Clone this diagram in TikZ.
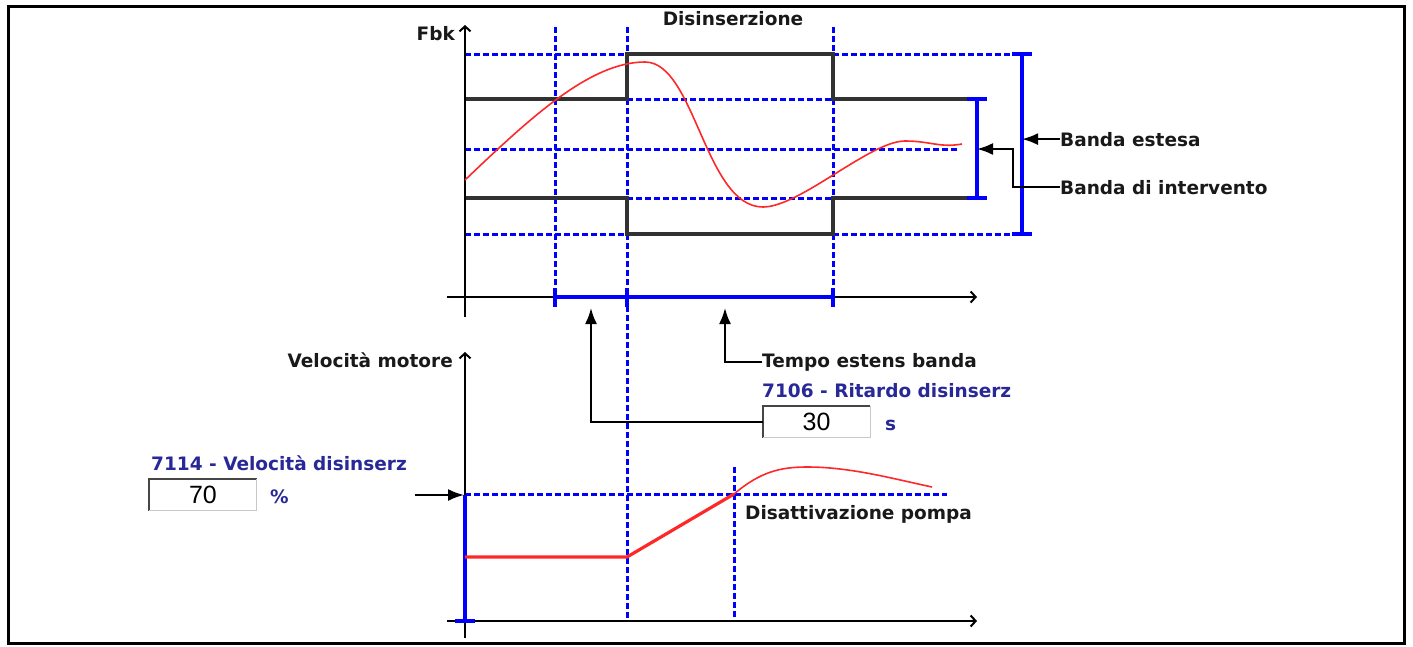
\documentclass[tikz,border=0pt]{standalone}
\usepackage{fontspec}
\setmainfont{DejaVu Sans}
\newfontfamily\numfont{Liberation Sans}
\usetikzlibrary{arrows.meta}
\definecolor{bl}{RGB}{0,0,255}
\definecolor{txtblue}{RGB}{40,40,150}
\definecolor{band}{RGB}{50,50,50}
\definecolor{rd}{RGB}{255,40,40}
\definecolor{boxdark}{RGB}{70,70,70}
\definecolor{boxlight}{RGB}{200,200,200}
\begin{document}
\begin{tikzpicture}[x=1pt,y=-1pt,
 lbl/.style={font=\fontsize{18.5}{22}\selectfont\bfseries, text=black!90, inner sep=0pt},
 plbl/.style={lbl, text=txtblue},
 dsh/.style={bl, line width=3pt, dash pattern=on 6pt off 3pt},
 bracket/.style={bl, line width=3.3pt},
 bandline/.style={band, line width=3.6pt},
 axis/.style={black, line width=2pt, -{Straight Barb[length=5pt,width=11pt]}},
 pointer/.style={black, line width=2pt, -{Latex[length=16pt,width=12pt]}},
 curve/.style={rd, line width=1.6pt},
 valbox/.style={draw=none, fill=white, minimum width=107pt, minimum height=31pt, inner sep=0pt, font=\numfont\fontsize{25}{28}\selectfont},
]
\useasboundingbox (0,0) rectangle (1413,646);
\draw[line width=3pt] (8,6) rectangle (1404,643);

% ---------- top chart ----------
% dashed grid
\draw[dsh] (465,54) -- (627,54) (833,54) -- (1032,54);
\draw[dsh] (627,99) -- (833,99);
\draw[dsh] (465,149) -- (957,149);
\draw[dsh] (627,198) -- (833,198);
\draw[dsh] (465,234) -- (627,234) (833,234) -- (1032,234);
\draw[dsh] (555,27) -- (555,297);
\draw[dsh] (627,27) -- (627,621);
\draw[dsh] (833,27) -- (833,297);

% band lines
\draw[bandline] (465,99) -- (627,99) -- (627,54) -- (833,54) -- (833,99) -- (968,99);
\draw[bandline] (465,198) -- (627,198) -- (627,234) -- (833,234) -- (833,198) -- (968,198);

% brackets
\coordinate (smallbr) at (977,149);
\coordinate (bigbr) at (1022,139);
\draw[bracket] (977,99) -- (977,198) (967,99) -- (987,99) (967,198) -- (987,198);
\draw[bracket] (1022,54) -- (1022,234) (1012,54) -- (1032,54) (1012,234) -- (1032,234);

% axes
\draw[axis] (465,317) -- (465,25);
\draw[axis] (447,297) -- (977,297);
\draw[bracket] (555,297) -- (833,297);
\draw[bracket] (555,288) -- (555,307) (627,288) -- (627,307) (833,288) -- (833,307);

% feedback curve
\draw[curve] (465,180) .. controls (530,118) and (590,62) .. (645,62)
  .. controls (695,62) and (705,207) .. (763,207)
  .. controls (800,207) and (870,141) .. (905,141)
  .. controls (930,141) and (940,148) .. (962,144);

% labels top
\node[lbl, anchor=base] (disins) at (733,25) {Disinserzione};
\node[lbl, anchor=base east] (fbk) at (455,40) {Fbk};
\node[lbl, anchor=base west] (bande) at (1060,146) {Banda estesa};
\node[lbl, anchor=base west] (bandi) at (1060,194) {Banda di intervento};
\draw[pointer] (bande.west) -- (bande.west -| bigbr);
\draw[pointer] (bandi.west) -- ++(-47,0) |- (smallbr);

\node[lbl, anchor=base west] (tempo) at (762,367) {Tempo estens banda};
\coordinate (tempotip) at (725,308);
\draw[pointer] (tempo.west) -| (tempotip);

\node[plbl, anchor=base west] (rit) at (762,397) {7106 - Ritardo disinserz};
\node[valbox] (box30) at (816.5,422) {30};
\draw[boxdark, line width=2.2pt] (box30.south west) -- (box30.north west) -- (box30.north east);
\draw[boxlight, line width=1pt] (box30.north east) -- (box30.south east) -- (box30.south west);
\node[plbl, anchor=base west] (sunit) at (885,430) {s};
\coordinate (rittip) at (591,308);
\draw[pointer] (box30.west) -| (rittip);

% ---------- bottom chart ----------
\draw[dsh] (465,494) -- (947,494);
\draw[dsh] (734,467) -- (734,621);
\draw[axis] (465,638) -- (465,352);
\draw[axis] (447,621) -- (977,621);
\draw[bracket] (465,495) -- (465,621) (455,621) -- (475,621);

\draw[rd, line width=3.2pt, line join=round] (465,557) -- (627,557) -- (734,494);
\draw[curve] (734,494) .. controls (760,472) and (780,467) .. (807,467)
  .. controls (850,467) and (890,478) .. (932,487);

\node[lbl, anchor=base east] (velm) at (453,367) {Velocità motore};
\node[lbl, anchor=base west] (disatt) at (745,519) {Disattivazione pompa};

\node[plbl, anchor=base west] (vdis) at (151,470) {7114 - Velocità disinserz};
\node[valbox] (box70) at (203,495) {70};
\draw[boxdark, line width=2.2pt] (box70.south west) -- (box70.north west) -- (box70.north east);
\draw[boxlight, line width=1pt] (box70.north east) -- (box70.south east) -- (box70.south west);
\node[plbl, anchor=base west] (pct) at (270,503) {\%};
\coordinate (arr70) at (415,495);
\coordinate (vtip) at (464,495);
\draw[pointer] (arr70) -- (vtip);
\end{tikzpicture}
\end{document}
